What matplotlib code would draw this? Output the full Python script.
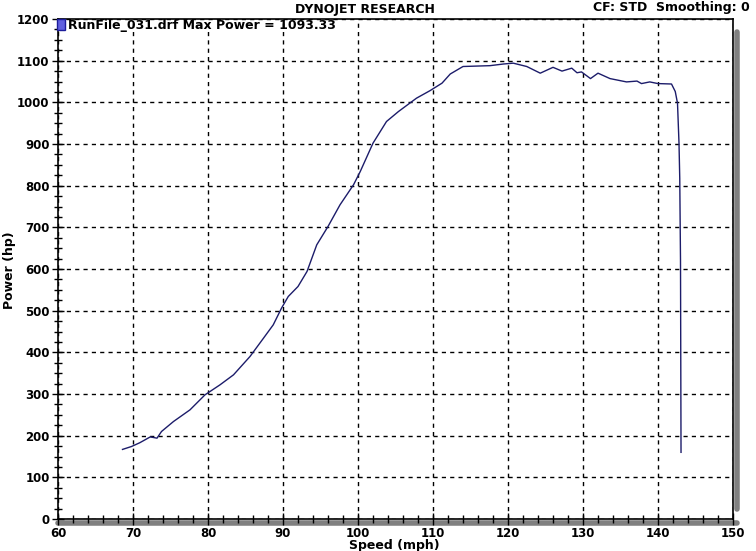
import matplotlib
matplotlib.use('Agg')
from matplotlib import pyplot
from matplotlib.patches import Rectangle
from matplotlib.ticker import MultipleLocator

speed = [68.6, 69.8, 70.9, 72.3, 73.2, 73.8, 75.4, 77.6, 79.6, 81.6, 83.4, 85.6,
         87.4, 88.7, 89.8, 90.7, 92.0, 93.2, 94.5, 96.0, 97.6, 99.4, 100.3, 102.0,
         103.8, 105.4, 107.8, 109.6, 111.2, 112.3, 114.0, 117.6, 119.4, 120.7,
         122.5, 124.3, 126.0, 127.2, 128.5, 129.2, 129.8, 131.0, 132.0, 133.6,
         135.8, 137.2, 137.8, 138.9, 140.0, 141.8, 142.3, 142.6, 142.8, 142.9,
         143.0, 143.07]
power = [167, 174, 183, 197, 194, 210, 234, 262, 298, 322, 346, 390,
         434, 466, 506, 534, 558, 594, 658, 702, 754, 802, 834, 902,
         954, 978, 1010, 1028, 1046, 1068, 1086, 1088, 1092, 1094,
         1086, 1070, 1084, 1075, 1082, 1071, 1073, 1057, 1070, 1057,
         1049, 1051, 1045, 1049, 1045, 1044, 1026, 998, 902, 818,
         622, 160]
run_label = 'RunFile_031.drf Max Power = 1093.33'

fig = pyplot.figure(figsize=(7.56, 5.51), dpi=100)
fig.patch.set_facecolor('white')
ax = fig.add_axes([58 / 756, 1 - 519 / 551, 675 / 756, 500 / 551])

ax.plot(speed, power, color='#1c1c6a', linewidth=1.0, zorder=3)

ax.set_xlim(60, 150)
ax.set_ylim(0, 1200)
ax.xaxis.set_major_locator(MultipleLocator(10))
ax.xaxis.set_minor_locator(MultipleLocator(2))
ax.yaxis.set_major_locator(MultipleLocator(100))
ax.yaxis.set_minor_locator(MultipleLocator(25))
ax.tick_params(which='both', direction='inout', color='black', width=1)
ax.tick_params(which='major', length=8, labelsize=8.5, pad=2)
ax.tick_params(which='minor', length=6)
for lab in ax.get_xticklabels() + ax.get_yticklabels():
    lab.set_fontweight('bold')
ax.grid(True, which='major', color='black', linestyle=(0, (3, 3)), linewidth=1)

for side in ['left', 'bottom', 'top', 'right']:
    ax.spines[side].set_linewidth(1.2)
    ax.spines[side].set_color('black')

# gray drop shadow on right and bottom edges
shadow = dict(color='#808080', linewidth=4, transform=ax.transAxes, clip_on=False, zorder=0)
ax.plot([1.006, 1.006], [0.02, 0.975], solid_capstyle='round', **shadow)
ax.plot([0.0, 1.006], [-0.008, -0.008], solid_capstyle='round', **shadow)

ax.set_xlabel('Speed (mph)', fontsize=9, fontweight='bold', va='center')
ax.set_ylabel('Power (hp)', fontsize=9, fontweight='bold', va='center')
ax.xaxis.set_label_coords((394 - 58) / 675, (519 - 545.5) / 500)
ax.yaxis.set_label_coords((10 - 58) / 675, (519 - 270) / 500)

fig.text(365 / 756, 1 - 10 / 551, 'DYNOJET RESEARCH', ha='center', va='center',
         fontsize=9, fontweight='bold')
fig.text(750 / 756, 1 - 8 / 551, 'CF: STD  Smoothing: 0', ha='right', va='center',
         fontsize=9, fontweight='bold')

fig.patches.append(Rectangle((57 / 756, 1 - 30 / 551), 8 / 756, 11 / 551,
                             transform=fig.transFigure, facecolor='#6060e0',
                             edgecolor='#1c1c9a', linewidth=1, zorder=5))
fig.text(68 / 756, 1 - 25 / 551, run_label, ha='left', va='center',
         fontsize=9, fontweight='bold')

pyplot.savefig('out.png', dpi=100)
